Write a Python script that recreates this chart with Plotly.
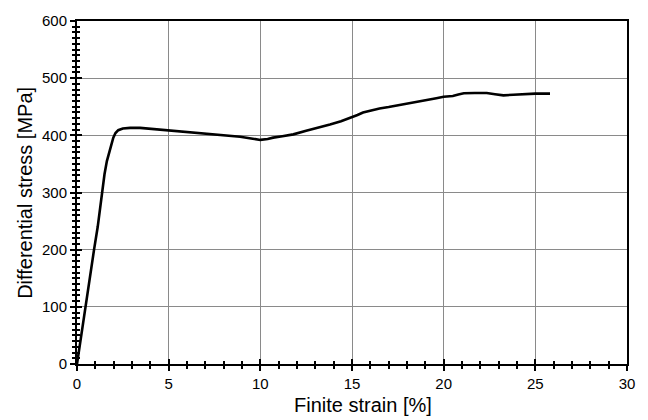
import plotly.graph_objects as go

strain = [0, 0.1, 0.49, 0.93, 1.13, 1.36, 1.5, 1.63, 1.76, 1.87, 1.98, 2.1, 2.25, 2.5, 2.9, 3.44, 4.16, 5.07,
          6.0, 7.0, 8.0, 8.9, 9.5, 10.0, 10.4, 10.7, 11.2, 11.8, 12.5, 13.2, 13.8, 14.4, 14.9, 15.3, 15.6,
          16.0, 16.5, 17.0, 17.4, 18.0, 18.5, 19.1, 19.6, 20.0, 20.5, 20.8, 21.1, 21.7, 22.35, 22.8,
          23.26, 23.8, 24.35, 25.0, 25.8]
stress = [0, 22, 100, 200, 240, 300, 332, 355, 372, 386, 396, 404, 409, 412, 413, 413, 411, 408.5,
          405.5, 402.5, 400, 397.5, 394.5, 392, 393.5, 396, 398.5, 401.7, 408, 413.5, 418.8, 424.5, 430, 435.5, 440,
          443.5, 447, 449.5, 451.7, 456, 459, 462, 465, 467.5, 468.7, 471.5, 473.5, 474, 474, 472,
          470, 471, 472.5, 473, 473]

x_ticks = [0, 5, 10, 15, 20, 25, 30]
y_ticks = [0, 100, 200, 300, 400, 500, 600]
x_range = [0, 30]
y_range = [0, 600]

FONT = "Liberation Sans, Arial, sans-serif"

fig = go.Figure()
fig.add_trace(go.Scatter(x=strain, y=stress, mode="lines",
                         line=dict(color="black", width=2.6, shape="linear"),
                         showlegend=False, hoverinfo="skip"))
# invisible trace to activate the overlay axes (inner halves of ticks)
fig.add_trace(go.Scatter(x=[None], y=[None], xaxis="x2", yaxis="y2", showlegend=False))


def axis_ticks(vals, rng, minor_dtick, side):
    return dict(range=rng, tickvals=vals, ticks=side, ticklen=5, tickwidth=2, tickcolor="black",
                minor=dict(dtick=minor_dtick, ticks=side, ticklen=3, tickwidth=2,
                           tickcolor="black", showgrid=False))


fig.update_layout(
    width=648, height=420,
    margin=dict(l=77, r=21, t=12, b=56),
    paper_bgcolor="white", plot_bgcolor="white",
    font=dict(family=FONT, color="black", size=15),
    xaxis=dict(**axis_ticks(x_ticks, x_range, 1, "outside"), showline=True, linecolor="black",
               linewidth=2, mirror=True, showgrid=True, gridcolor="#8a8a8a", gridwidth=1,
               zeroline=False, tickfont=dict(size=15, family=FONT, color="black")),
    yaxis=dict(**axis_ticks(y_ticks, y_range, 10, "outside"), showline=True, linecolor="black",
               linewidth=2, mirror=True, showgrid=True, gridcolor="#8a8a8a", gridwidth=1,
               zeroline=False, tickfont=dict(size=15, family=FONT, color="black")),
    xaxis2=dict(**axis_ticks(x_ticks, x_range, 1, "inside"), overlaying="x", anchor="y",
                side="bottom", showticklabels=False, showgrid=False, showline=False, zeroline=False),
    yaxis2=dict(**axis_ticks(y_ticks, y_range, 10, "inside"), overlaying="y", anchor="x",
                side="left", showticklabels=False, showgrid=False, showline=False, zeroline=False),
    annotations=[
        dict(text="Finite strain [%]", xref="paper", yref="paper", x=0.52, y=-0.12,
             xanchor="center", yanchor="middle", showarrow=False,
             font=dict(size=20, family=FONT, color="black")),
        dict(text="Differential stress [MPa]", xref="paper", yref="paper",
             x=(25 - 77) / 550, y=0.499, textangle=-90,
             xanchor="center", yanchor="middle", showarrow=False,
             font=dict(size=20, family=FONT, color="black")),
    ],
)

fig.write_html("out.html")
